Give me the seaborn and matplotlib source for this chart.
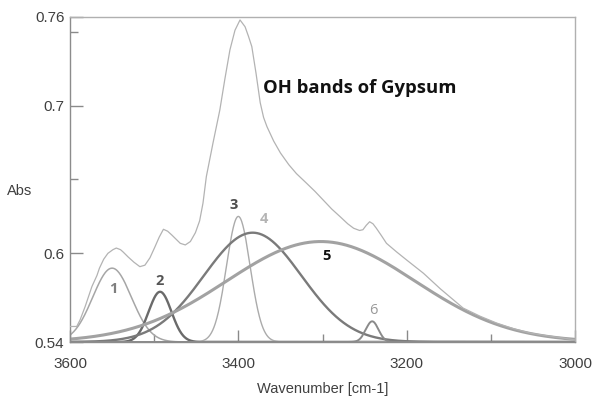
import numpy as np
import pandas as pd
import matplotlib
matplotlib.use("Agg")
import matplotlib.pyplot as plt
import seaborn as sns

wavenumber = [3600, 3592, 3588, 3582, 3574, 3568, 3565, 3560, 3555, 3549, 3545, 3540,
              3537, 3531, 3524, 3517, 3511, 3505, 3499, 3494, 3489, 3484, 3479, 3469,
              3463, 3457, 3451, 3446, 3442, 3438, 3430, 3422, 3416, 3410, 3404, 3398,
              3392, 3388, 3384, 3379, 3374, 3370, 3366, 3358, 3350, 3340, 3331, 3319,
              3309, 3299, 3289, 3279, 3270, 3263, 3256, 3252, 3248, 3244, 3240, 3236,
              3230, 3224, 3212, 3200, 3180, 3160, 3133, 3113, 3093, 3073, 3053, 3033,
              3014, 3000]
absorbance = [0.5505, 0.5505, 0.555, 0.564, 0.5775, 0.585, 0.590, 0.596, 0.600, 0.6025, 0.6036, 0.6025,
              0.601, 0.5976, 0.594, 0.591, 0.592, 0.597, 0.6045, 0.611, 0.6163, 0.615, 0.6124, 0.6068,
              0.6057, 0.608, 0.614, 0.622, 0.634, 0.652, 0.675, 0.697, 0.718, 0.7377, 0.751, 0.758,
              0.7534, 0.747, 0.740, 0.722, 0.702, 0.692, 0.6858, 0.676, 0.668, 0.660, 0.654, 0.6475,
              0.642, 0.636, 0.630, 0.6248, 0.620, 0.617, 0.6155, 0.616, 0.619, 0.6214, 0.620, 0.617,
              0.612, 0.6068, 0.601, 0.5955, 0.5865, 0.5760, 0.563, 0.5575, 0.5528, 0.549, 0.546, 0.5442,
              0.5427, 0.5414]

# fitted OH bands: position, height above baseline, gaussian width (cm-1)
band_names = ["1", "2", "3", "4", "5", "6"]
band_center = [3550, 3493, 3400, 3383, 3302, 3241]
band_height = [0.050, 0.034, 0.085, 0.074, 0.068, 0.014]
band_sigma = [23, 13.5, 14, 58, 112, 7.5]
baseline = 0.54

band_colors = ["#a6a6a6", "#6a6a6a", "#ababab", "#7a7a7a", "#a2a2a2", "#8a8a8a"]
band_lw = [1.1, 1.7, 1.0, 1.7, 2.2, 1.4]
label_colors = ["#7f7f7f", "#555555", "#4d4d4d", "#b4b4b4", "#111111", "#999999"]
label_weight = ["bold", "bold", "bold", "bold", "bold", "normal"]
label_pos = [(3549, 0.576), (3493, 0.581), (3406, 0.633), (3370, 0.623), (3295, 0.598), (3240, 0.561)]

spec = pd.DataFrame({"wn": wavenumber, "abs": absorbance})
grid = np.linspace(3600, 3000, 1201)

sns.set_style("ticks")
plt.rcParams["font.family"] = ["Liberation Sans", "DejaVu Sans"]

fig = plt.figure(figsize=(5.94, 3.98), dpi=100)
ax = fig.add_axes([70 / 594, 56 / 398, 505 / 594, 325 / 398])

for i in range(len(band_names)):
    y = baseline + band_height[i] * np.exp(-(grid - band_center[i]) ** 2 / (2 * band_sigma[i] ** 2))
    sns.lineplot(x=grid, y=y, ax=ax, color=band_colors[i], lw=band_lw[i], zorder=2)
    tx, ty = label_pos[i]
    ax.text(tx, ty, band_names[i], color=label_colors[i], fontsize=10.5,
            fontweight=label_weight[i], family=["Open Sans", "DejaVu Sans"],
            ha="center", va="center")

sns.lineplot(data=spec, x="wn", y="abs", ax=ax, color="#b3b3b3", lw=0.9, zorder=3)

ax.text(3371, 0.712, "OH bands of Gypsum", fontsize=13.3, fontweight="bold",
        family=["Open Sans", "DejaVu Sans"], ha="left", va="center", color="#111111")

ax.set_xlim(3600, 3000)
ax.set_ylim(0.54, 0.76)
ax.set_xticks([3600, 3400, 3200, 3000])
ax.set_xticks([3500, 3300, 3100], minor=True)
ax.set_yticks([0.54, 0.6, 0.7, 0.76])
ax.set_yticklabels(["0.54", "0.6", "0.7", "0.76"])
ax.set_yticks([0.65, 0.75], minor=True)
ax.tick_params(which="major", direction="in", length=9, width=1, color="#8a8a8a",
               labelsize=11, labelcolor="#404040")
ax.tick_params(which="minor", direction="in", length=5.5, width=1, color="#8a8a8a")
ax.tick_params(axis="x", which="major", pad=11)
ax.tick_params(axis="y", which="major", pad=4)

for side in ["top", "right"]:
    ax.spines[side].set_color("#b0b0b0")
for side in ["left", "bottom"]:
    ax.spines[side].set_color("#8c8c8c")
for s in ax.spines.values():
    s.set_linewidth(1.0)

ax.set_xlabel("Wavenumber [cm-1]", fontsize=10.5, color="#404040")
ax.xaxis.set_label_coords(0.5, -0.124)
ax.set_ylabel("Abs", fontsize=10.5, color="#404040", rotation=0, ha="center", va="center")
ax.yaxis.set_label_coords(-0.1, 0.465)

fig.savefig("out.png", dpi=100)
